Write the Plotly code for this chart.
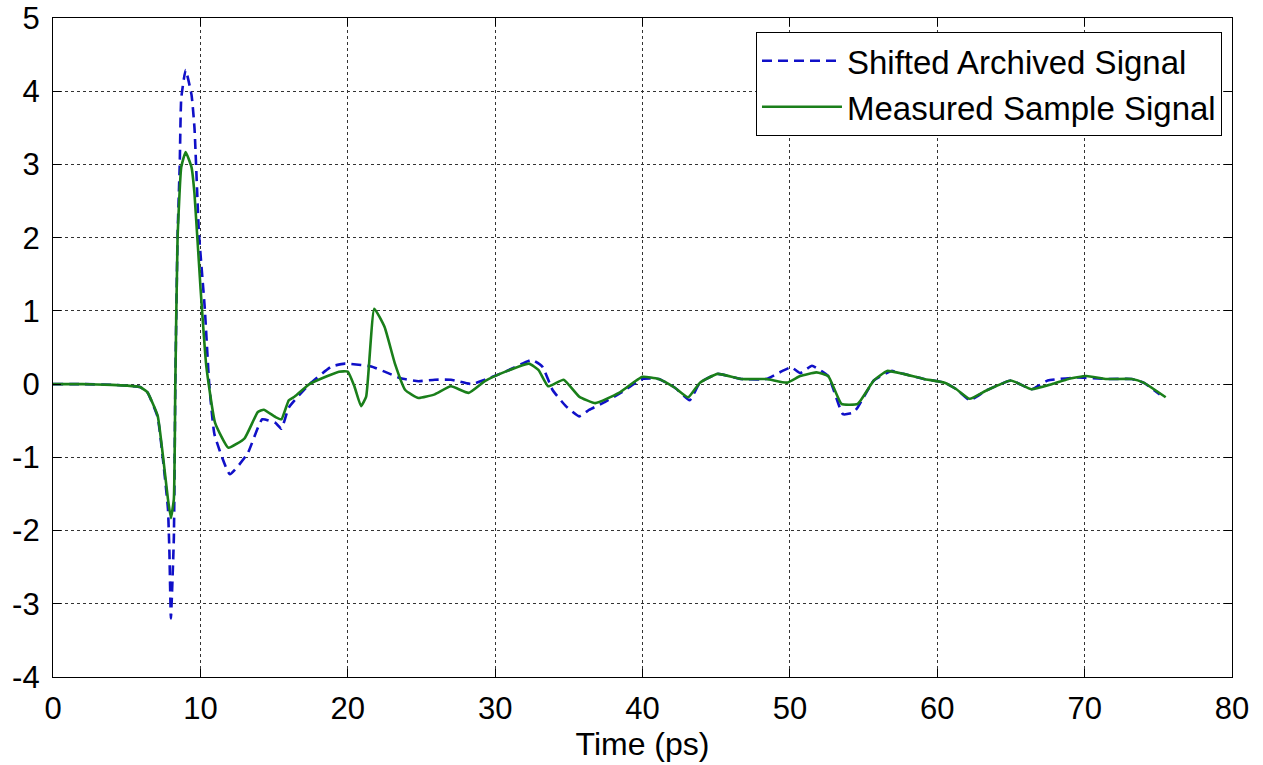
import plotly.graph_objects as go

# Shifted Archived Signal
t_arch = [0, 2, 4, 5, 5.9, 6.4, 7.1, 7.5, 7.8, 7.9, 8.0, 8.2, 8.3, 8.45, 8.6, 8.7, 9.0, 9.4, 9.6, 9.9,
          10.3, 10.6, 10.96, 12.0, 13.2, 14.2, 15.1, 15.5, 16.0, 17.4, 18.9, 19.8, 20.9, 21.6, 22.5,
          23.6, 24.8, 25.9, 27.0, 28.4, 29.3, 30.7, 32.5, 33.2, 33.9, 34.8, 35.7, 36.4, 37.3, 38.6,
          40.0, 41.1, 42.2, 43.2, 43.9, 45.1, 46.7, 48.4, 49.5, 50.1, 50.7, 51.5, 52.6, 53.6, 54.3,
          54.6, 55.7, 56.9, 57.7, 59.1, 60.5, 61.3, 62.2, 63.3, 65.0, 66.4, 67.5, 69.5, 71.5, 73.2,
          74.0, 75.1]
v_arch = [0, 0, -0.01, -0.02, -0.04, -0.11, -0.45, -1.1, -1.7, -2.3, -3.2, -2.1, 0, 2.0, 3.0, 3.9,
          4.29, 3.95, 3.5, 2.07, 1.03, 0, -0.69, -1.23, -0.95, -0.48, -0.53, -0.61, -0.32, 0, 0.24,
          0.28, 0.26, 0.24, 0.17, 0.08, 0.04, 0.06, 0.06, 0, 0.06, 0.17, 0.33, 0.24, -0.08, -0.3,
          -0.44, -0.35, -0.26, -0.11, 0.07, 0.07, -0.05, -0.22, 0.02, 0.14, 0.07, 0.07, 0.18, 0.23,
          0.15, 0.25, 0.11, -0.41, -0.39, -0.32, 0.05, 0.18, 0.14, 0.07, 0.02, -0.07, -0.22, -0.09,
          0.05, -0.07, 0.05, 0.09, 0.07, 0.07, 0.02, -0.14]

# Measured Sample Signal
t_meas = [0, 2, 4, 5, 5.9, 6.4, 7.1, 7.5, 7.8, 8.0, 8.2, 8.3, 8.45, 8.7, 9.0, 9.4, 9.6, 10.0, 10.4,
          11.0, 11.9, 13.0, 13.9, 14.3, 15.1, 15.5, 16.0, 16.4, 17.4, 18.5, 19.4, 20.0, 20.45, 20.9,
          21.25, 21.8, 22.5, 23.2, 23.9, 24.8, 25.9, 27.0, 28.2, 29.3, 30.7, 32.3, 32.95, 33.6, 34.65,
          35.7, 36.8, 38.4, 40.0, 41.1, 42.2, 43.1, 43.9, 45.1, 46.7, 48.4, 49.8, 50.7, 51.8, 52.6,
          53.5, 54.6, 55.7, 56.6, 57.7, 59.1, 60.5, 61.3, 62.2, 63.3, 65.0, 66.4, 67.8, 68.9, 70.1,
          71.5, 73.2, 74.0, 75.5]
v_meas = [0, 0, -0.01, -0.02, -0.04, -0.11, -0.43, -1.05, -1.57, -1.83, -1.57, 0, 1.97, 2.96, 3.17,
          2.96, 2.6, 1.34, 0.25, -0.53, -0.87, -0.74, -0.38, -0.35, -0.45, -0.48, -0.22, -0.17, 0,
          0.1, 0.17, 0.17, -0.03, -0.3, -0.17, 1.03, 0.78, 0.28, -0.08, -0.19, -0.14, -0.03, -0.12,
          0.04, 0.17, 0.28, 0.19, -0.03, 0.06, -0.17, -0.26, -0.12, 0.1, 0.07, -0.05, -0.18, 0.02,
          0.14, 0.07, 0.07, 0.02, 0.11, 0.16, 0.11, -0.27, -0.27, 0.05, 0.18, 0.14, 0.07, 0.02,
          -0.07, -0.2, -0.09, 0.05, -0.07, 0, 0.07, 0.11, 0.07, 0.07, 0.02, -0.18]

x_ticks = [0, 10, 20, 30, 40, 50, 60, 70, 80]
y_ticks = [-4, -3, -2, -1, 0, 1, 2, 3, 4, 5]

FONT = "Liberation Sans, Arial, sans-serif"

fig = go.Figure()
fig.add_trace(go.Scatter(x=t_arch, y=v_arch, mode="lines", name="Shifted Archived Signal",
                         line=dict(color="#1010c8", width=2.6, dash="10px,6px",
                                   shape="spline", smoothing=0.4)))
fig.add_trace(go.Scatter(x=t_meas, y=v_meas, mode="lines", name="Measured Sample Signal",
                         line=dict(color="#1a7f1a", width=2.6, shape="spline", smoothing=0.4)))

axis_common = dict(showline=True, linecolor="black", linewidth=1.2, mirror="allticks",
                   ticks="inside", ticklen=8, tickcolor="black", showgrid=True,
                   gridcolor="#333333", griddash="dot", gridwidth=1, zeroline=False,
                   automargin=False,
                   tickfont=dict(family=FONT, size=31, color="black"))

fig.update_xaxes(range=[0, 80], tickvals=x_ticks, ticktext=[str(v) for v in x_ticks],
                 ticklabelstandoff=4,
                 title=dict(text="Time (ps)", font=dict(family=FONT, size=32, color="black"),
                            standoff=0),
                 **axis_common)
fig.update_yaxes(range=[-4, 5], tickvals=y_ticks, ticktext=[str(v) for v in y_ticks],
                 ticklabelstandoff=6,
                 **axis_common)

fig.update_layout(
    width=1263, height=765,
    margin=dict(l=53, r=31, t=18, b=88),
    plot_bgcolor="white", paper_bgcolor="white",
    showlegend=True,
    legend=dict(x=0.9915, y=0.979, xanchor="right", yanchor="top",
                bgcolor="white", bordercolor="black", borderwidth=1,
                font=dict(family=FONT, size=33, color="black"),
                itemwidth=80, tracegroupgap=0),
)

fig.write_html("out.html")
